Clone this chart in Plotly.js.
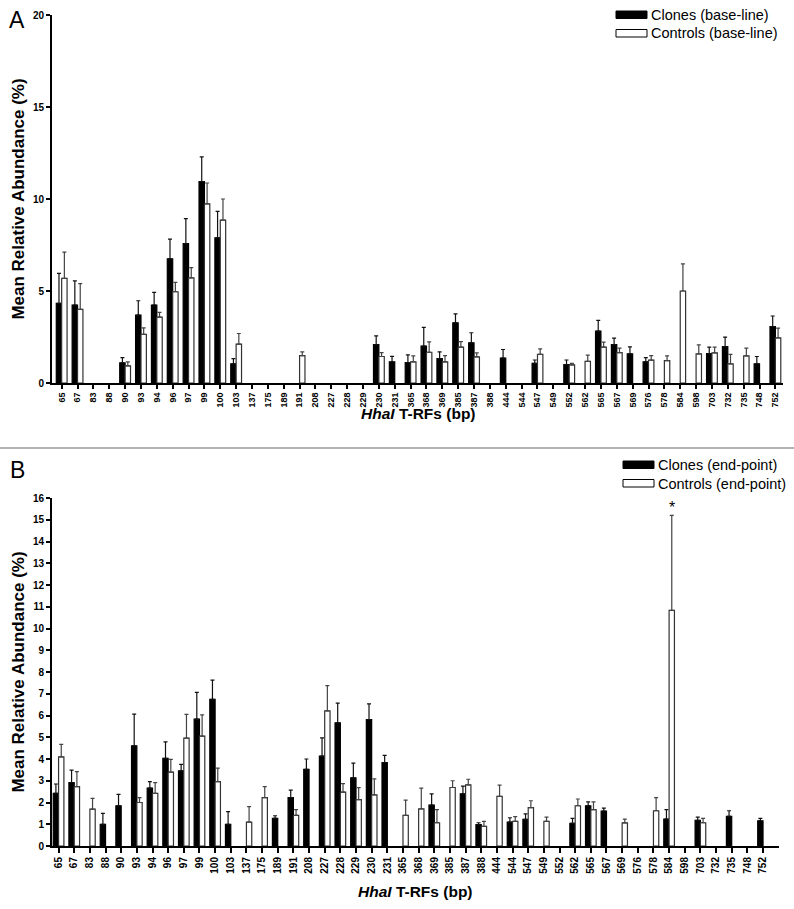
<!DOCTYPE html>
<html>
<head>
<meta charset="utf-8">
<script src="https://cdn.plot.ly/plotly-3.0.1.min.js"></script>
<style>
  html, body { margin: 0; padding: 0; background: #ffffff; }
  #chart { width: 794px; height: 909px; }
</style>
</head>
<body>
<div id="chart"></div>
<script>
// ============================================================================
// 데이터 (HhaI T-RF, 평균 상대 풍부도 %, 오차는 위쪽 SEM 길이)
// ============================================================================

const trfs = ['65', '67', '83', '88', '90', '93', '94', '96', '97', '99', '100', '103',
    '137', '175', '189', '191', '208', '227', '228', '229', '230', '231',
    '365', '368', '369', '385', '387', '388', '444', '544', '547', '549', '552',
    '562', '565', '567', '569', '576', '578', '584', '598', '703', '732', '735', '748', '752'];

// A: base-line
const clonesBase = [4.33, 4.24, null, null, 1.09, 3.69, 4.24, 6.75, 7.58, 10.95, 7.89, 1.04,
    null, null, null, null, null, null, null, null, 2.09, 1.15,
    1.11, 2.00, 1.33, 3.27, 2.18, null, 1.36, null, 1.07, null, 1.00,
    null, 2.82, 2.09, 1.58, 1.15, null, null, null, 1.60, 1.98, null, 1.04, 3.07];
const clonesBaseErr = [1.63, 1.31, null, null, 0.29, 0.78, 0.69, 1.07, 1.35, 1.34, 1.44, 0.29,
    null, null, null, null, null, null, null, null, 0.47, 0.30,
    0.42, 1.02, 0.36, 0.49, 0.55, null, 0.46, null, 0.18, null, 0.25,
    null, 0.58, 0.35, 0.38, 0.23, null, null, null, 0.35, 0.51, null, 0.40, 0.57];
const controlsBase = [5.69, 4.00, null, null, 0.93, 2.64, 3.58, 4.96, 5.71, 9.73, 8.85, 2.11,
    null, null, null, 1.49, null, null, null, null, 1.44, null,
    1.15, 1.67, 1.15, 1.95, 1.42, null, null, null, 1.56, null, 0.98,
    1.18, 1.95, 1.65, null, 1.24, 1.22, 5.00, 1.58, 1.64, 1.04, 1.47, null, 2.45];
const controlsBaseErr = [1.42, 1.40, null, null, 0.22, 0.36, 0.26, 0.51, 0.56, 1.14, 1.15, 0.58,
    null, null, null, 0.20, null, null, null, null, 0.21, null,
    0.32, 0.57, 0.34, 0.30, 0.22, null, null, null, 0.29, null, 0.09,
    0.33, 0.27, 0.24, null, 0.25, 0.25, 1.47, 0.49, 0.31, 0.52, 0.42, null, 0.53];

// B: end-point
const clonesEnd = [2.42, 2.92, null, 1.00, 1.85, 4.61, 2.66, 4.03, 3.45, 5.83, 6.74, 1.00,
    null, null, 1.27, 2.23, 3.52, 4.13, 5.66, 3.13, 5.81, 3.84,
    null, null, 1.88, null, 2.40, 0.98, null, 1.10, 1.22, null, null,
    1.04, 1.85, 1.61, null, null, null, 1.24, null, 1.18, null, 1.36, null, 1.16];
const clonesEndErr = [0.43, 0.57, null, 0.50, 0.52, 1.45, 0.30, 0.76, 0.30, 1.23, 0.89, 0.58,
    null, null, 0.12, 0.34, 0.48, 0.84, 0.91, 0.68, 0.72, 0.33,
    null, null, 0.52, null, 0.35, 0.09, null, 0.20, 0.26, null, null,
    0.23, 0.18, 0.13, null, null, null, 0.43, null, 0.15, null, 0.26, null, 0.11];
const controlsEnd = [4.10, 2.73, 1.70, null, null, 2.00, 2.42, 3.40, 4.96, 5.05, 2.96, null,
    1.10, 2.22, null, 1.41, null, 6.21, 2.48, 2.13, 2.35, null,
    1.41, 1.71, 1.07, 2.69, 2.81, 0.90, 2.28, 1.13, 1.76, 1.13, null,
    1.85, 1.67, null, 1.06, null, 1.62, 10.83, null, 1.07, null, null, null, null];
const controlsEndErr = [0.57, 0.69, 0.49, null, null, 0.22, 0.49, 0.58, 1.09, 0.98, 0.62, null,
    0.71, 0.51, null, 0.26, null, 1.16, 0.39, 0.55, 0.74, null,
    0.70, 0.95, 0.60, 0.31, 0.26, 0.23, 0.52, 0.22, 0.32, 0.20, null,
    0.31, 0.36, null, 0.18, null, 0.60, 4.37, null, 0.20, null, null, null, null];

const yTicksA = [0, 5, 10, 15, 20];
const yTicksB = [0, 1, 2, 3, 4, 5, 6, 7, 8, 9, 10, 11, 12, 13, 14, 15, 16];

// 유의 표시(*)가 붙는 T-RF
const starTrf = '584';

// ============================================================================
// 픽셀 → paper 좌표 변환
// ============================================================================

const W = 794;
const H = 909;
const px = x => x / W;
const py = y => 1 - y / H;

const FONT = 'Liberation Sans, Arial, sans-serif';
const X_TITLE = '<b><i>HhaI</i> T-RFs (bp)</b>';

// ============================================================================
// 트레이스 생성
// ============================================================================

function makeBar(values, errs, isClone, axisIdx) {
    const lineColor = isClone ? '#000000' : '#333333';
    return {
        type: 'bar',
        x: trfs,
        y: values,
        xaxis: axisIdx === 1 ? 'x' : 'x2',
        yaxis: axisIdx === 1 ? 'y' : 'y2',
        marker: {
            color: isClone ? '#000000' : '#ffffff',
            line: { color: lineColor, width: 1.2 }
        },
        error_y: {
            type: 'data',
            symmetric: false,
            array: errs,
            arrayminus: errs.map(() => 0),
            color: isClone ? '#111111' : '#444444',
            thickness: 1.2,
            width: 2
        },
        showlegend: false,
        hoverinfo: 'skip'
    };
}

const traces = [
    makeBar(clonesBase, clonesBaseErr, true, 1),
    makeBar(controlsBase, controlsBaseErr, false, 1),
    makeBar(clonesEnd, clonesEndErr, true, 2),
    makeBar(controlsEnd, controlsEndErr, false, 2)
];

// ============================================================================
// 레이아웃
// ============================================================================

function xAxis(domain, range, anchor, fontSize, tickLen) {
    return {
        type: 'category',
        domain: domain,
        range: range,
        anchor: anchor,
        showline: true,
        linecolor: '#000',
        linewidth: 2,
        ticks: 'outside',
        ticklen: tickLen,
        tickwidth: 2,
        tickcolor: '#000',
        tickangle: -90,
        tickfont: { family: FONT, size: fontSize, color: '#000', weight: 'bold' },
        showgrid: false,
        zeroline: false,
        fixedrange: true
    };
}

function yAxis(domain, range, ticks, anchor) {
    return {
        domain: domain,
        range: range,
        anchor: anchor,
        tickvals: ticks,
        showline: true,
        linecolor: '#000',
        linewidth: 2,
        ticks: 'outside',
        ticklen: 4,
        tickwidth: 2,
        tickcolor: '#000',
        tickfont: { family: FONT, size: 10, color: '#000', weight: 'bold' },
        showgrid: false,
        zeroline: false,
        fixedrange: true,
        title: {
            text: '<b>Mean Relative Abundance (%)</b>',
            font: { family: FONT, size: 17, color: '#000' },
            standoff: 4
        }
    };
}

// x축 제목 (눈금 라벨 바로 아래에 붙도록 직접 배치)
function xTitle(cx, cy) {
    return {
        xref: 'paper', yref: 'paper', x: px(cx), y: py(cy),
        xanchor: 'center', yanchor: 'middle', showarrow: false,
        text: X_TITLE, font: { family: FONT, size: 15.5, color: '#000' }
    };
}

// 범례 (넓은 직사각형 견본)
function legendItems(top, labels) {
    const shapes = [];
    const annotations = [];
    labels.forEach((label, i) => {
        const y0 = top.y + i * 18.5;
        shapes.push({
            type: 'rect', xref: 'paper', yref: 'paper',
            x0: px(top.x), x1: px(top.x + 31),
            y0: py(y0 + 7.5), y1: py(y0),
            fillcolor: i === 0 ? '#000' : '#fff',
            line: { color: '#000', width: 1 }
        });
        annotations.push({
            xref: 'paper', yref: 'paper',
            x: px(top.x + 33), y: py(y0 + 4),
            xanchor: 'left', yanchor: 'middle',
            text: label, showarrow: false,
            font: { family: FONT, size: 14.5, color: '#000' }
        });
    });
    return { shapes, annotations };
}

const legA = legendItems({ x: 616, y: 11 }, ['Clones (base-line)', 'Controls (base-line)']);
const legB = legendItems({ x: 623, y: 461 }, ['Clones (end-point)', 'Controls (end-point)']);

const starIdx = trfs.indexOf(starTrf);
const starY = controlsEnd[starIdx] + controlsEndErr[starIdx];

const layout = {
    width: W,
    height: H,
    margin: { l: 0, r: 0, t: 0, b: 0 },
    paper_bgcolor: '#fff',
    plot_bgcolor: 'rgba(0,0,0,0)',
    barmode: 'group',
    bargap: 0.32,
    bargroupgap: 0,
    showlegend: false,
    font: { family: FONT, color: '#000' },
    xaxis: xAxis([px(52), px(783)], [-0.61, 45.48], 'y', 9, 4),
    yaxis: yAxis([py(383), py(15)], [0, 20], yTicksA, 'x'),
    xaxis2: xAxis([px(52), px(779)], [-0.42, 46.02], 'y2', 10, 5),
    yaxis2: yAxis([py(846), py(498)], [0, 16], yTicksB, 'x2'),
    shapes: [
        // 패널 구분선
        { type: 'line', xref: 'paper', yref: 'paper', x0: 0, x1: 1,
          y0: py(448), y1: py(448), line: { color: '#999', width: 1.5 } },
        ...legA.shapes,
        ...legB.shapes
    ],
    annotations: [
        { xref: 'paper', yref: 'paper', x: px(17), y: py(20), text: 'A', showarrow: false,
          xanchor: 'center', yanchor: 'middle', font: { family: FONT, size: 23, color: '#000' } },
        { xref: 'paper', yref: 'paper', x: px(17), y: py(470), text: 'B', showarrow: false,
          xanchor: 'center', yanchor: 'middle', font: { family: FONT, size: 23, color: '#000' } },
        xTitle(418, 414),
        xTitle(415, 891),
        // 584 대조군 유의 표시
        { xref: 'x2', yref: 'y2', x: starIdx, y: starY, xshift: 2.7, yshift: -3, text: '*',
          showarrow: false, xanchor: 'center', yanchor: 'bottom',
          font: { family: FONT, size: 16, color: '#000' } },
        ...legA.annotations,
        ...legB.annotations
    ]
};

Plotly.newPlot('chart', traces, layout, { displayModeBar: false, staticPlot: true });
</script>
</body>
</html>
